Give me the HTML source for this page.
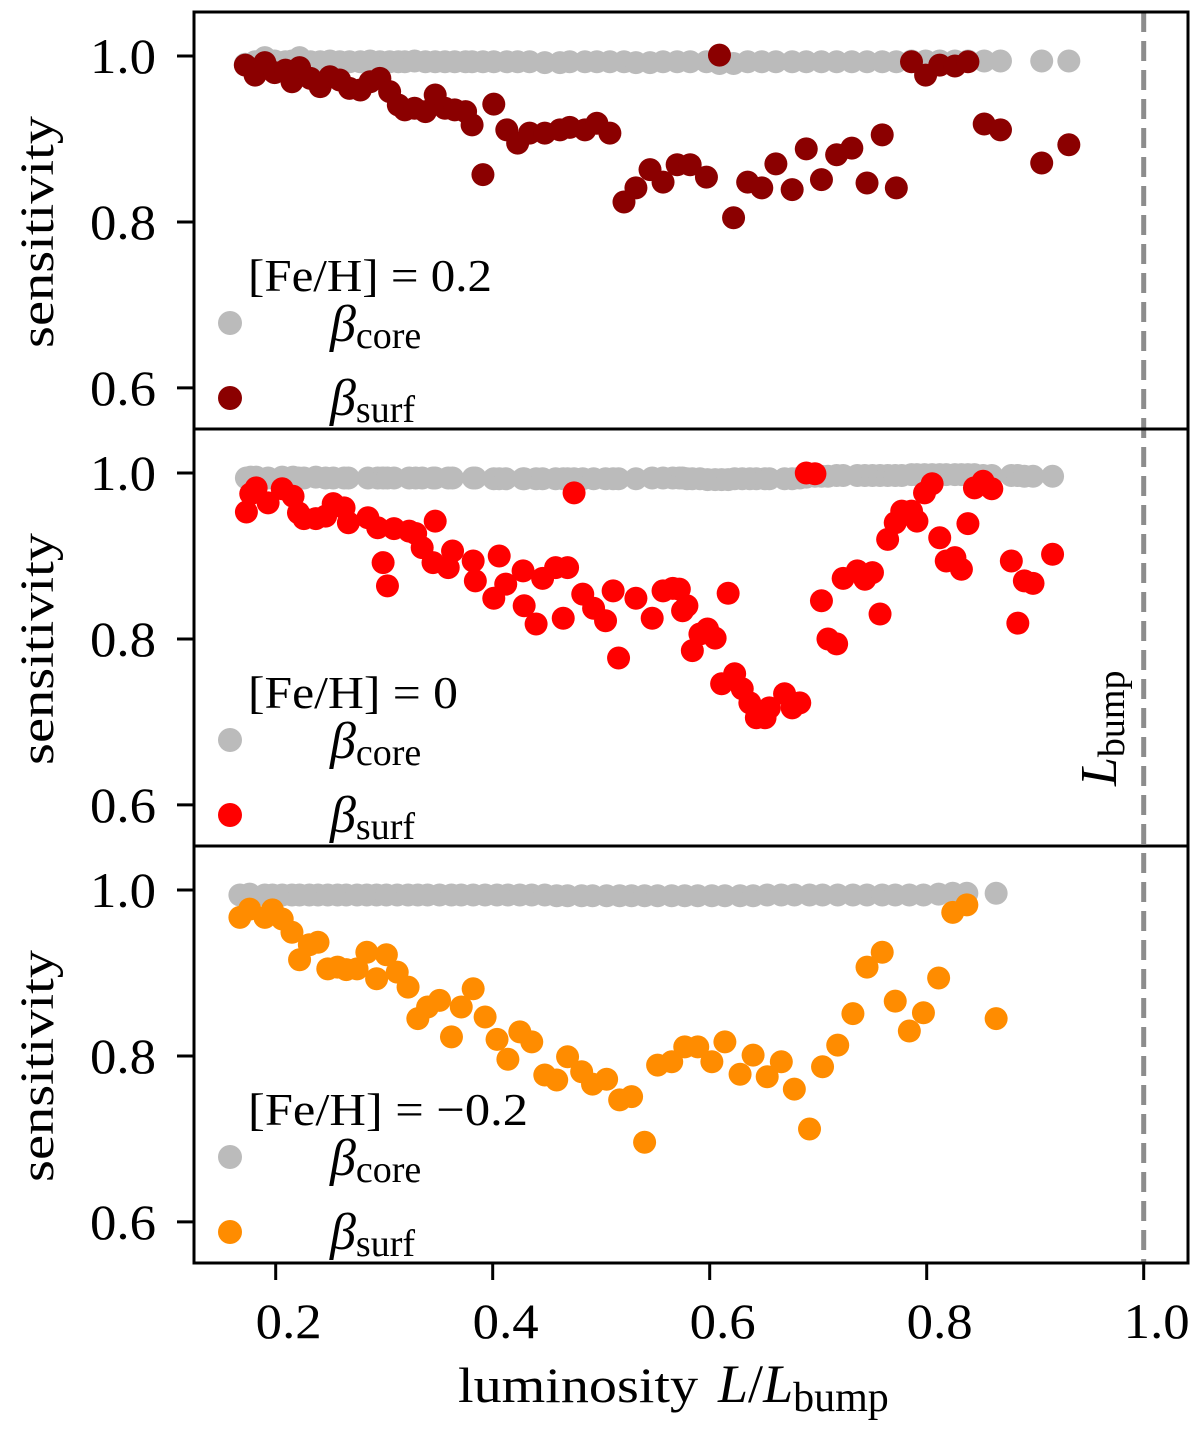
<!DOCTYPE html>
<html><head><meta charset="utf-8"><style>
body{margin:0;background:#fff;}
svg text{font-family:"Liberation Serif",serif;fill:#000;}
</style></head>
<body>
<svg id="chart" width="1200" height="1427" viewBox="0 0 1200 1427" xmlns="http://www.w3.org/2000/svg"></svg>
<script>
const xTicks = [0.2, 0.4, 0.6, 0.8, 1.0];
const xTickLabels = ["0.2", "0.4", "0.6", "0.8", "1.0"];
const yTicks = [0.6, 0.8, 1.0];
const yTickLabels = ["0.6", "0.8", "1.0"];
const panelLabels = ["[Fe/H] = 0.2", "[Fe/H] = 0", "[Fe/H] = \u22120.2"];
const panelLabelWidths = [244, 210, 280];
const surfColors = ["#8b0000", "#ff0000", "#ff8c00"];
const bumpValue = 1.0;

const lumHigh = [0.172,0.181,0.190,0.199,0.209,0.215,0.222,0.232,0.241,0.250,0.259,0.268,0.278,0.287,0.296,0.305,0.313,0.319,0.328,0.338,0.347,0.356,0.365,0.375,0.381,0.391,0.401,0.413,0.423,0.434,0.448,0.462,0.471,0.485,0.496,0.508,0.521,0.532,0.545,0.557,0.570,0.582,0.597,0.609,0.622,0.635,0.648,0.661,0.676,0.689,0.703,0.717,0.731,0.745,0.759,0.772,0.786,0.799,0.812,0.826,0.838,0.853,0.868,0.906,0.931];
const surfHigh = [0.989,0.977,0.992,0.980,0.983,0.969,0.986,0.973,0.963,0.975,0.971,0.961,0.959,0.969,0.973,0.957,0.941,0.935,0.937,0.933,0.953,0.937,0.935,0.933,0.917,0.857,0.942,0.911,0.895,0.907,0.907,0.911,0.914,0.911,0.919,0.907,0.824,0.841,0.863,0.848,0.869,0.869,0.854,1.001,0.805,0.848,0.841,0.870,0.839,0.888,0.851,0.881,0.889,0.847,0.905,0.841,0.993,0.977,0.989,0.988,0.993,0.918,0.911,0.871,0.893];
const coreHigh = [0.990,0.993,0.998,0.994,0.993,0.994,0.998,0.993,0.993,0.994,0.993,0.993,0.993,0.994,0.993,0.993,0.993,0.993,0.994,0.993,0.993,0.993,0.993,0.993,0.993,0.993,0.993,0.993,0.993,0.993,0.992,0.992,0.993,0.993,0.993,0.993,0.993,0.992,0.992,0.993,0.993,0.993,0.993,0.991,0.991,0.993,0.993,0.993,0.993,0.993,0.993,0.993,0.993,0.993,0.993,0.993,0.994,0.994,0.994,0.994,0.994,0.994,0.994,0.994,0.994];

const lumSolar = [0.173,0.177,0.182,0.193,0.206,0.216,0.221,0.226,0.237,0.246,0.253,0.263,0.267,0.285,0.294,0.299,0.303,0.309,0.323,0.329,0.335,0.345,0.347,0.359,0.363,0.382,0.384,0.401,0.406,0.412,0.428,0.429,0.440,0.446,0.458,0.465,0.469,0.475,0.483,0.493,0.504,0.511,0.516,0.532,0.547,0.557,0.566,0.572,0.575,0.579,0.584,0.591,0.598,0.605,0.611,0.617,0.623,0.630,0.637,0.643,0.651,0.655,0.669,0.676,0.683,0.689,0.697,0.703,0.709,0.717,0.723,0.736,0.743,0.750,0.757,0.764,0.771,0.777,0.786,0.791,0.798,0.805,0.812,0.818,0.826,0.832,0.838,0.844,0.852,0.860,0.878,0.884,0.890,0.898,0.916];
const surfSolar = [0.953,0.975,0.982,0.964,0.981,0.972,0.952,0.945,0.945,0.948,0.963,0.958,0.940,0.946,0.934,0.892,0.864,0.933,0.930,0.927,0.910,0.892,0.942,0.886,0.906,0.894,0.870,0.849,0.900,0.866,0.882,0.840,0.818,0.873,0.886,0.825,0.886,0.976,0.854,0.837,0.822,0.858,0.777,0.849,0.825,0.858,0.861,0.860,0.834,0.840,0.786,0.806,0.812,0.801,0.746,0.855,0.758,0.740,0.723,0.705,0.705,0.717,0.734,0.717,0.723,1.000,0.999,0.846,0.800,0.794,0.873,0.882,0.872,0.880,0.830,0.920,0.940,0.954,0.954,0.942,0.976,0.987,0.922,0.894,0.898,0.884,0.939,0.982,0.990,0.981,0.894,0.819,0.870,0.867,0.902];
const coreSolar = [0.994,0.995,0.995,0.994,0.995,0.995,0.994,0.994,0.995,0.994,0.994,0.994,0.994,0.994,0.994,0.994,0.994,0.994,0.994,0.994,0.994,0.994,0.994,0.994,0.994,0.994,0.994,0.993,0.993,0.993,0.993,0.993,0.993,0.993,0.993,0.993,0.993,0.993,0.993,0.993,0.993,0.993,0.993,0.993,0.994,0.994,0.994,0.994,0.994,0.993,0.993,0.993,0.992,0.992,0.992,0.992,0.993,0.993,0.993,0.993,0.993,0.993,0.993,0.993,0.994,0.995,0.996,0.996,0.996,0.997,0.997,0.997,0.997,0.997,0.997,0.997,0.997,0.997,0.998,0.998,0.998,0.998,0.998,0.998,0.998,0.998,0.998,0.998,0.997,0.997,0.997,0.997,0.996,0.996,0.996];

const lumLow = [0.167,0.176,0.190,0.197,0.206,0.215,0.222,0.231,0.239,0.248,0.257,0.265,0.275,0.284,0.293,0.302,0.312,0.322,0.331,0.340,0.351,0.362,0.371,0.382,0.393,0.404,0.414,0.425,0.436,0.448,0.459,0.469,0.482,0.492,0.505,0.517,0.528,0.540,0.552,0.565,0.577,0.589,0.602,0.614,0.628,0.640,0.653,0.666,0.678,0.692,0.704,0.718,0.732,0.745,0.759,0.771,0.784,0.797,0.811,0.824,0.837,0.864];
const surfLow = [0.967,0.977,0.967,0.976,0.965,0.949,0.916,0.934,0.937,0.905,0.907,0.904,0.905,0.925,0.893,0.922,0.901,0.883,0.845,0.859,0.867,0.823,0.859,0.881,0.847,0.820,0.796,0.829,0.817,0.777,0.771,0.799,0.781,0.766,0.772,0.747,0.751,0.696,0.789,0.793,0.811,0.811,0.793,0.817,0.778,0.801,0.775,0.793,0.760,0.712,0.787,0.813,0.851,0.907,0.925,0.866,0.830,0.852,0.894,0.973,0.982,0.845];
const coreLow = [0.994,0.995,0.994,0.994,0.994,0.994,0.994,0.994,0.994,0.994,0.994,0.994,0.994,0.994,0.994,0.994,0.994,0.994,0.994,0.994,0.994,0.994,0.994,0.994,0.994,0.994,0.994,0.994,0.994,0.994,0.993,0.993,0.993,0.993,0.993,0.993,0.993,0.993,0.993,0.993,0.993,0.993,0.993,0.993,0.993,0.993,0.994,0.994,0.994,0.994,0.994,0.994,0.994,0.994,0.994,0.994,0.994,0.994,0.995,0.996,0.996,0.996];

const panelLums = [lumHigh, lumSolar, lumLow];
const panelSurf = [surfHigh, surfSolar, surfLow];
const panelCore = [coreHigh, coreSolar, coreLow];

const NS = "http://www.w3.org/2000/svg";
const svg = document.getElementById("chart");
const L = 194, R = 1188;
const panelTops = [12, 429, 846];
const PH = 417;
const Y_TOP = 1.053, Y_BOT = 0.5505;
function xPix(v){ return 275.7 + (v - 0.2) * 1085; }
function yPix(p, v){ return panelTops[p] + (Y_TOP - v) / (Y_TOP - Y_BOT) * PH; }
function mk(tag, attrs, parent){
  const e = document.createElementNS(NS, tag);
  for (const k in attrs) e.setAttribute(k, attrs[k]);
  (parent || svg).appendChild(e);
  return e;
}

for (let p = 0; p < 3; p++) {
  const g = mk("g", {});
  
  
  const lums = panelLums[p], core = panelCore[p], surf = panelSurf[p];
  const n1 = Math.min(lums.length, core.length);
  for (let i = 0; i < n1; i++) {
    const c = mk("circle", {cx: xPix(lums[i]), cy: yPix(p, core[i]), r: 11.5, fill: "#bbbbbb"}, g);
    
    
  }
  const n2 = Math.min(lums.length, surf.length);
  for (let i = 0; i < n2; i++) {
    const c = mk("circle", {cx: xPix(lums[i]), cy: yPix(p, surf[i]), r: 11.5, fill: surfColors[p]}, g);
    
    
  }
  for (let i = 0; i < yTicks.length; i++) {
    const y = yPix(p, yTicks[i]);
    const t = mk("line", {x1: 177, x2: L, y1: y, y2: y, stroke: "#000", "stroke-width": 3}, g);
    
    
    const tl = mk("text", {x: 90, y: y + 17, "font-size": 50, textLength: 66, lengthAdjust: "spacingAndGlyphs"}, g);
    tl.textContent = yTickLabels[i];
    
    
  }
  const top = panelTops[p];
  const yt = mk("text", {x: 0, y: 0, "font-size": 48, "text-anchor": "middle", textLength: 232, lengthAdjust: "spacingAndGlyphs", transform: "translate(53," + (top + 220) + ") rotate(-90)"}, g);
  yt.textContent = "sensitivity";
  
  
  const lt = mk("text", {x: 248, y: top + 279, "font-size": 46, textLength: panelLabelWidths[p], lengthAdjust: "spacingAndGlyphs"}, g);
  lt.textContent = panelLabels[p];
  
  
  const lc1 = mk("circle", {cx: 230, cy: top + 311, r: 12, fill: "#bbbbbb"}, g);
  
  
  const lx1 = mk("text", {x: 330, y: top + 329, "font-size": 52, "font-style": "italic"}, g);
  lx1.innerHTML = 'β<tspan font-size="38" font-style="normal" dy="7">core</tspan>';
  
  
  const lc2 = mk("circle", {cx: 230, cy: top + 386, r: 12, fill: surfColors[p]}, g);
  
  
  const lx2 = mk("text", {x: 330, y: top + 403, "font-size": 52, "font-style": "italic"}, g);
  lx2.innerHTML = 'β<tspan font-size="38" font-style="normal" dy="7">surf</tspan>';
  
  
}

const bx = xPix(bumpValue);
const dl = mk("line", {x1: bx, x2: bx, y1: 12, y2: 1262, stroke: "#8c8c8c", "stroke-width": 5, "stroke-dasharray": "20 9"});


const bl = mk("text", {x: 0, y: 0, "font-size": 52, "font-style": "italic", transform: "translate(1116,786) rotate(-90)"});
bl.innerHTML = 'L<tspan font-size="38" font-style="normal" dy="8">bump</tspan>';



for (let p = 0; p < 3; p++) {
  const f = mk("rect", {x: L, y: panelTops[p], width: R - L, height: PH, fill: "none", stroke: "#000", "stroke-width": 3});
  
  
}

for (let i = 0; i < xTicks.length; i++) {
  const x = xPix(xTicks[i]);
  const t = mk("line", {x1: x, x2: x, y1: 1263, y2: 1280, stroke: "#000", "stroke-width": 3});
  
  
  const tl = mk("text", {x: x + 13 - 33, y: 1338, "font-size": 50, textLength: 66, lengthAdjust: "spacingAndGlyphs"});
  tl.textContent = xTickLabels[i];
  
  
}
const xt = mk("text", {x: 458, y: 1402, "font-size": 50});
xt.innerHTML = '<tspan textLength="240" lengthAdjust="spacingAndGlyphs">luminosity</tspan><tspan x="718" font-style="italic" font-size="54">L</tspan><tspan font-size="54">/</tspan><tspan font-style="italic" font-size="54">L</tspan><tspan font-size="42" dy="9">bump</tspan>';


</script>
</body></html>
